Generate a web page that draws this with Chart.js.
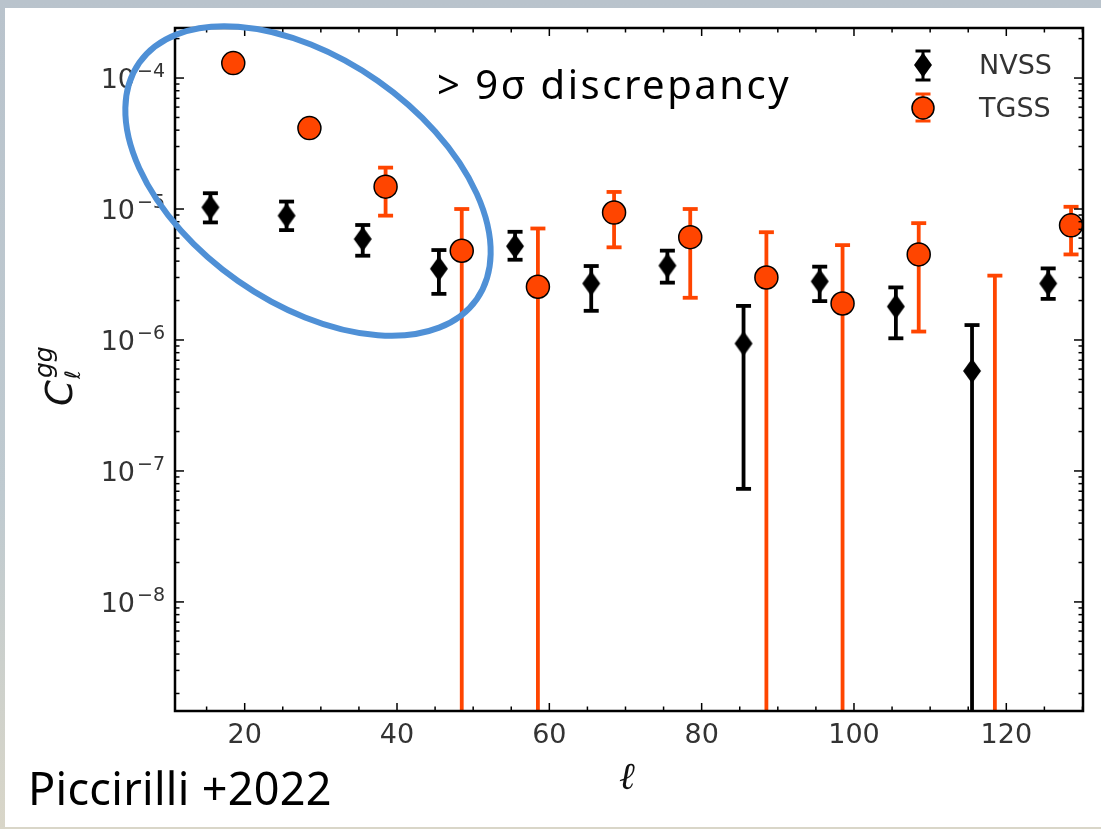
<!DOCTYPE html>
<html>
<head>
<meta charset="utf-8">
<script src="https://cdn.jsdelivr.net/npm/chart.js@4.4.1/dist/chart.umd.min.js"></script>
<style>
  html, body { margin: 0; padding: 0; width: 1101px; height: 829px; overflow: hidden; }
  body { position: relative; background: linear-gradient(180deg, #b9c3cc 0%, #bfcad0 60%, #d9d6c8 100%); }
  #sheet { position: absolute; left: 5px; top: 8px; width: 1096px; height: 819px; background: #fff; }
  #c { position: absolute; left: 0; top: 0; }
</style>
</head>
<body>
<div id="sheet"></div>
<canvas id="c" width="1101" height="829"></canvas>
<script>
// multipole bins (NVSS / TGSS are offset so the points don't overlap)
const nvssEll = [15.5, 25.5, 35.5, 45.5, 55.5, 65.5, 75.5, 85.5, 95.5, 105.5, 115.5, 125.5];
const nvssCl  = [1.03e-5, 8.9e-6, 5.9e-6, 3.5e-6, 5.2e-6, 2.7e-6, 3.7e-6, 9.4e-7, 2.8e-6, 1.8e-6, 5.8e-7, 2.7e-6];
const nvssLo  = [7.9e-6, 6.9e-6, 4.4e-6, 2.25e-6, 4.1e-6, 1.67e-6, 2.74e-6, 7.3e-8, 1.98e-6, 1.03e-6, 0, 2.06e-6];
const nvssHi  = [1.32e-5, 1.14e-5, 7.55e-6, 4.86e-6, 6.7e-6, 3.67e-6, 4.81e-6, 1.82e-6, 3.63e-6, 2.52e-6, 1.3e-6, 3.52e-6];

const tgssEll = [18.5, 28.5, 38.5, 48.5, 58.5, 68.5, 78.5, 88.5, 98.5, 108.5, 118.5, 128.5];
const tgssCl  = [1.30e-4, 4.15e-5, 1.48e-5, 4.8e-6, 2.55e-6, 9.4e-6, 6.1e-6, 3.0e-6, 1.9e-6, 4.5e-6, null, 7.5e-6];
const tgssLo  = [1.16e-4, 3.7e-5, 8.9e-6, 0, 0, 5.1e-6, 2.1e-6, 0, 0, 1.16e-6, 0, 4.5e-6];
const tgssHi  = [1.46e-4, 4.65e-5, 2.07e-5, 1.0e-5, 7.1e-6, 1.35e-5, 1.0e-5, 6.65e-6, 5.3e-6, 7.8e-6, 3.1e-6, 1.04e-5];

const xTicks = [20, 40, 60, 80, 100, 120];
const yTicks = [1e-8, 1e-7, 1e-6, 1e-5, 1e-4];
const yTickExp = ['\u22128', '\u22127', '\u22126', '\u22125', '\u22124'];

const ORANGE = '#ff4500';
const TICK_COLOR = '#333';

// thin diamond marker like matplotlib 'd'
const diamond = document.createElement('canvas');
diamond.width = 20; diamond.height = 26;
(() => {
  const d = diamond.getContext('2d');
  d.fillStyle = '#000';
  d.beginPath();
  d.moveTo(10, 0.5); d.lineTo(19, 13); d.lineTo(10, 25.5); d.lineTo(1, 13);
  d.closePath(); d.fill();
})();

function drawBar(ctx, px, top, bot, capTop, capBot) {
  ctx.beginPath(); ctx.moveTo(px, top); ctx.lineTo(px, bot); ctx.stroke();
  if (capTop) { ctx.beginPath(); ctx.moveTo(px - 7.5, top); ctx.lineTo(px + 7.5, top); ctx.stroke(); }
  if (capBot) { ctx.beginPath(); ctx.moveTo(px - 7.5, bot); ctx.lineTo(px + 7.5, bot); ctx.stroke(); }
}

// error bars under each dataset's markers
const errorBars = {
  id: 'errorBars',
  beforeDatasetDraw(chart, args) {
    const ds = chart.data.datasets[args.index];
    if (!ds.errHi) return;
    const { ctx, chartArea: a, scales: { x, y } } = chart;
    ctx.save();
    ctx.beginPath(); ctx.rect(a.left, a.top, a.right - a.left, a.bottom - a.top); ctx.clip();
    ctx.strokeStyle = ds.errColor;
    ctx.lineWidth = 3.8;
    ds.errX.forEach((l, i) => {
      const px = x.getPixelForValue(l);
      const top = y.getPixelForValue(ds.errHi[i]);
      const hasLo = ds.errLo[i] > 0;
      const bot = hasLo ? y.getPixelForValue(ds.errLo[i]) : a.bottom + 4;
      drawBar(ctx, px, top, bot, true, hasLo);
    });
    ctx.restore();
  }
};

// box, inward ticks on all sides, y tick labels, axis titles, legend, annotations
const decor = {
  id: 'decor',
  afterDraw(chart) {
    const { ctx, chartArea: a, scales: { x, y } } = chart;
    ctx.save();
    ctx.strokeStyle = '#000';

    // x ticks (major every 20, minor every 5)
    ctx.lineWidth = 1.5;
    for (let v = 15; v <= 130; v += 5) {
      const px = x.getPixelForValue(v);
      const len = v % 20 === 0 ? 8 : 4.5;
      ctx.beginPath(); ctx.moveTo(px, a.bottom); ctx.lineTo(px, a.bottom - len); ctx.stroke();
      ctx.beginPath(); ctx.moveTo(px, a.top); ctx.lineTo(px, a.top + len); ctx.stroke();
    }
    // y ticks (log, major at decades, minor 2..9)
    for (let e = -9; e <= -4; e++) {
      for (let m = 1; m <= 9; m++) {
        const v = m * Math.pow(10, e);
        if (v < y.min || v > y.max) continue;
        const py = y.getPixelForValue(v);
        const len = m === 1 ? 9 : 4.5;
        ctx.beginPath(); ctx.moveTo(a.left, py); ctx.lineTo(a.left + len, py); ctx.stroke();
        ctx.beginPath(); ctx.moveTo(a.right, py); ctx.lineTo(a.right - len, py); ctx.stroke();
      }
    }
    // frame
    ctx.lineWidth = 2.5;
    ctx.strokeRect(a.left, a.top, a.right - a.left, a.bottom - a.top);

    // y tick labels: 10^{-n}
    ctx.fillStyle = TICK_COLOR;
    ctx.textBaseline = 'alphabetic';
    yTicks.forEach((v, i) => {
      const py = y.getPixelForValue(v);
      ctx.font = '19px "DejaVu Sans"';
      const ew = ctx.measureText(yTickExp[i]).width;
      ctx.textAlign = 'right';
      ctx.fillText(yTickExp[i], a.left - 10, py - 1);
      ctx.font = '27px "DejaVu Sans"';
      ctx.fillText('10', a.left - 12 - ew, py + 10);
    });

    // y axis title C_l^gg (rotated)
    ctx.save();
    ctx.translate(72, 406);
    ctx.rotate(-Math.PI / 2);
    ctx.fillStyle = '#111';
    ctx.textAlign = 'left';
    ctx.font = 'italic 37px "DejaVu Sans"';
    ctx.fillText('C', 0, 0);
    ctx.font = 'italic 21px "DejaVu Sans"';
    ctx.fillText('\u2113', 27, 8);
    ctx.font = 'italic 25px "DejaVu Sans"';
    ctx.fillText('gg', 28, -20);
    ctx.restore();

    // x axis title
    ctx.fillStyle = '#111';
    ctx.textAlign = 'center';
    ctx.font = 'italic 38px "DejaVu Serif"';
    ctx.fillText('\u2113', 627, 789);

    // legend
    const lx = 923;
    ctx.lineWidth = 3;
    ctx.strokeStyle = '#000';
    drawBar(ctx, lx, 51, 80, true, true);
    ctx.drawImage(diamond, lx - 10, 65 - 13);
    ctx.strokeStyle = ORANGE;
    drawBar(ctx, lx, 94, 121, true, true);
    ctx.beginPath(); ctx.arc(lx, 108, 11, 0, Math.PI * 2);
    ctx.fillStyle = ORANGE; ctx.fill();
    ctx.lineWidth = 1.5; ctx.strokeStyle = '#000'; ctx.stroke();
    ctx.fillStyle = TICK_COLOR;
    ctx.textAlign = 'left';
    ctx.textBaseline = 'middle';
    ctx.font = '27px "DejaVu Sans"';
    ctx.fillText(chart.data.datasets[0].label, 979, 67);
    ctx.fillText(chart.data.datasets[1].label, 979, 110);

    // highlight ellipse
    ctx.beginPath();
    ctx.ellipse(308, 181, 206, 122, 35 * Math.PI / 180, 0, Math.PI * 2);
    ctx.lineWidth = 6;
    ctx.strokeStyle = '#4f90d6';
    ctx.stroke();

    // slide annotations
    ctx.fillStyle = '#000';
    ctx.textBaseline = 'alphabetic';
    ctx.textAlign = 'left';
    ctx.font = '40px "Noto Sans"';
    ctx.letterSpacing = '2.5px';
    ctx.fillText('> 9\u03c3 discrepancy', 437, 99);
    ctx.font = '45px "Noto Sans"';
    ctx.letterSpacing = '0.3px';
    ctx.fillText('Piccirilli +2022', 28, 805);
    ctx.restore();
  }
};

new Chart(document.getElementById('c'), {
  type: 'scatter',
  data: {
    datasets: [{
      label: 'NVSS',
      data: nvssEll.map((l, i) => ({ x: l, y: nvssCl[i] })),
      pointStyle: diamond,
      pointRadius: 12,
      errX: nvssEll, errLo: nvssLo, errHi: nvssHi, errColor: '#000'
    }, {
      label: 'TGSS',
      data: tgssEll.map((l, i) => ({ x: l, y: tgssCl[i] })).filter(p => p.y !== null),
      pointStyle: 'circle',
      pointRadius: 11.5,
      backgroundColor: ORANGE,
      borderColor: '#000',
      borderWidth: 1.5,
      errX: tgssEll, errLo: tgssLo, errHi: tgssHi, errColor: ORANGE
    }]
  },
  options: {
    responsive: false,
    animation: false,
    layout: { padding: { top: 28, right: 18, left: 0, bottom: 0 } },
    plugins: { legend: { display: false }, tooltip: { enabled: false } },
    scales: {
      x: {
        type: 'linear',
        min: 10.85, max: 130.07,
        grid: { display: false, drawTicks: false },
        border: { display: false },
        afterBuildTicks: s => { s.ticks = xTicks.map(v => ({ value: v })); },
        afterFit: s => { s.height = 829 - 711; },
        ticks: { padding: 9, color: TICK_COLOR, font: { family: 'DejaVu Sans', size: 27 } }
      },
      y: {
        type: 'logarithmic',
        min: 1.47e-9, max: 2.41e-4,
        grid: { display: false, drawTicks: false },
        border: { display: false },
        afterBuildTicks: s => { s.ticks = yTicks.map(v => ({ value: v })); },
        afterFit: s => { s.width = 175; },
        ticks: { display: false }
      }
    }
  },
  plugins: [errorBars, decor]
});
</script>
</body>
</html>
